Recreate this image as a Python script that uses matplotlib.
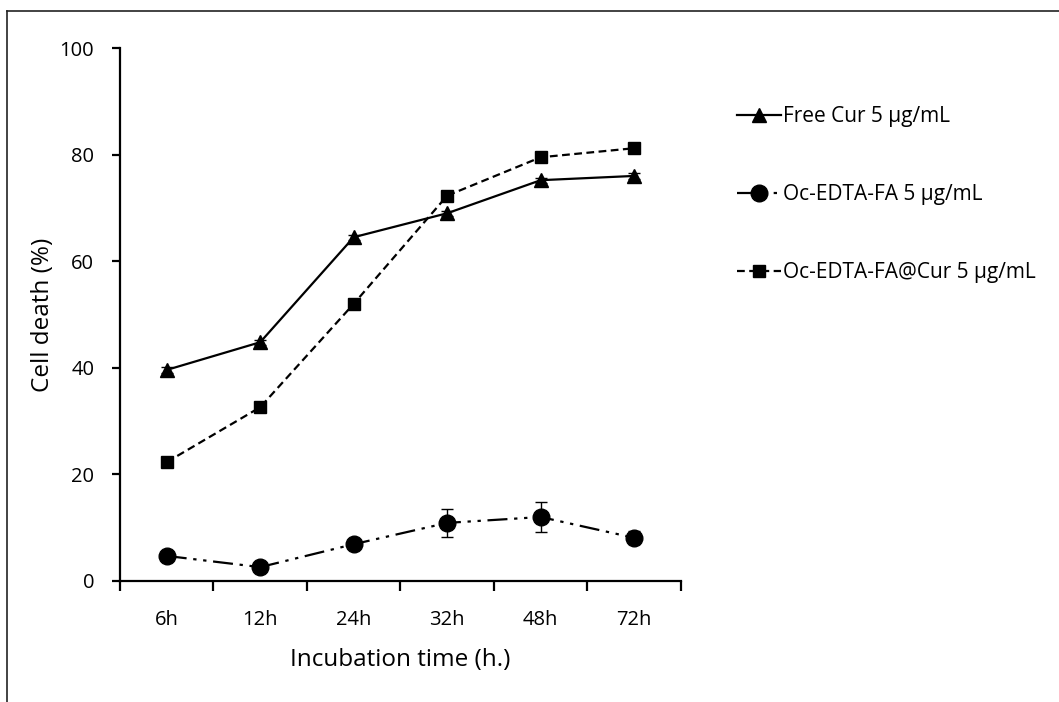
import matplotlib.pyplot as plt
from matplotlib.lines import Line2D

plt.rcParams['font.family'] = ['Open Sans', 'DejaVu Sans']
plt.rcParams['font.size'] = 14

# datos
times = ['6h', '12h', '24h', '32h', '48h', '72h']
free_cur = [39.6, 44.8, 64.5, 69.0, 75.2, 76.0]
free_cur_err = [0.5, 0.5, 0.5, 0.5, 0.5, 0.5]
oc_fa = [4.7, 2.6, 6.9, 10.9, 12.0, 8.1]
oc_fa_err = [0.6, 0.6, 0.8, 2.6, 2.8, 1.2]
oc_fa_cur = [22.3, 32.6, 52.0, 72.3, 79.5, 81.2]
oc_fa_cur_err = [0.5, 0.5, 0.5, 0.5, 0.5, 0.5]

fig = plt.figure(figsize=(10.59, 7.02), dpi=100)
ax = fig.add_axes([0.1133, 0.1724, 0.5297, 0.7592])

x = list(range(len(times)))

ax.errorbar(x, free_cur, yerr=free_cur_err, color='black', lw=1.6, ls='-',
            marker='^', ms=10, capsize=4, elinewidth=1, label='Free Cur 5 µg/mL')
ax.errorbar(x, oc_fa, yerr=oc_fa_err, color='black', lw=1.6, dashes=(9, 3, 1.5, 3, 1.5, 3),
            marker='o', ms=12, capsize=4, elinewidth=1, label='Oc-EDTA-FA 5 µg/mL')
ax.errorbar(x, oc_fa_cur, yerr=oc_fa_cur_err, color='black', lw=1.6, dashes=(3.5, 2),
            marker='s', ms=9, capsize=4, elinewidth=1, label='Oc-EDTA-FA@Cur 5 µg/mL')

ax.set_xlim(-0.5, len(times) - 0.5)
ax.set_ylim(0, 100)
ax.set_yticks([0, 20, 40, 60, 80, 100])

# ticks en los limites de categoria, etiquetas en el centro
ax.set_xticks([i - 0.5 for i in range(len(times) + 1)])
ax.set_xticklabels([])
ax.set_xticks(x, minor=True)
ax.set_xticklabels(times, minor=True)
ax.tick_params(axis='x', which='major', length=7, width=1.6, direction='out')
ax.tick_params(axis='x', which='minor', length=0, pad=21, labelsize=14.5)
ax.tick_params(axis='y', length=5.5, width=1.6, direction='out', pad=13, labelsize=14.5)

for s in ['top', 'right']:
    ax.spines[s].set_visible(False)
for s in ['left', 'bottom']:
    ax.spines[s].set_linewidth(1.6)

ax.set_xlabel('Incubation time (h.)', fontsize=17.5, labelpad=13)
ax.set_ylabel('Cell death (%)', fontsize=17.5, labelpad=3)

# leyenda a la derecha, sin barras de error
handles = [
    Line2D([], [], color='black', lw=1.6, ls='-', marker='^', ms=10),
    Line2D([], [], color='black', lw=1.6, dashes=(9, 3, 1.5, 3, 1.5, 3), marker='o', ms=12),
    Line2D([], [], color='black', lw=1.6, dashes=(3.5, 2), marker='s', ms=9),
]
labels = ['Free Cur 5 µg/mL', 'Oc-EDTA-FA 5 µg/mL', 'Oc-EDTA-FA@Cur 5 µg/mL']
fig.legend(handles, labels, loc='upper left', bbox_to_anchor=(0.688, 0.861),
           frameon=False, handlelength=2.1, handletextpad=0.1,
           labelspacing=2.75, fontsize=15, borderaxespad=0)

# marco de la imagen (solo arriba e izquierda)
fig.add_artist(Line2D([0.0066, 1.0], [0.984, 0.984], transform=fig.transFigure,
                      color='#222222', lw=1.2))
fig.add_artist(Line2D([0.0066, 0.0066], [0.0, 0.984], transform=fig.transFigure,
                      color='#222222', lw=1.2))

fig.savefig('out.png', dpi=100)
